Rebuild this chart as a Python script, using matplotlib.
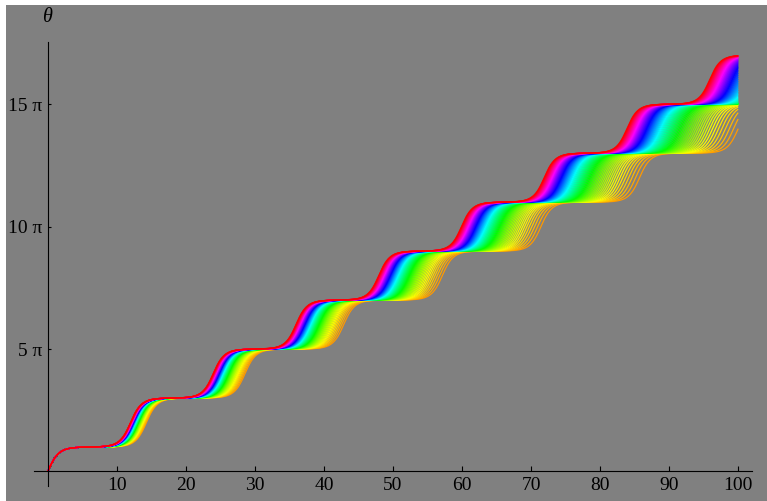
import numpy as np
import matplotlib
matplotlib.use("Agg")
import matplotlib.pyplot as plt
from matplotlib.colors import hsv_to_rgb
from matplotlib.patches import Rectangle

# Family of pendulum rotations theta'' = -sin(theta), theta(0) = 0,
# launched just above the separatrix speed: theta'(0) = 2 + speed_scale * h.
# Each curve is coloured by its own parameter h as a hue.
hue_params = np.round(np.arange(0.10, 1.0001, 0.01), 2)
base_speed = 2.0
speed_scale = 1e-4
t_max = 100.0

x_ticks = [10, 20, 30, 40, 50, 60, 70, 80, 90, 100]
y_ticks = [5, 10, 15]          # multiples of pi
y_tick_labels = ["5 \u03c0", "10 \u03c0", "15 \u03c0"]

# --- integrate all pendulums together with RK4 ---
dt = 0.005
n_steps = int(round(t_max / dt))
times = np.linspace(0.0, t_max, n_steps + 1)
theta = np.zeros_like(hue_params)
omega = base_speed + speed_scale * hue_params
history = np.empty((n_steps + 1, hue_params.size))
history[0] = theta
for i in range(n_steps):
    k1t = omega
    k1o = -np.sin(theta)
    k2t = omega + 0.5 * dt * k1o
    k2o = -np.sin(theta + 0.5 * dt * k1t)
    k3t = omega + 0.5 * dt * k2o
    k3o = -np.sin(theta + 0.5 * dt * k2t)
    k4t = omega + dt * k3o
    k4o = -np.sin(theta + dt * k3t)
    theta = theta + dt / 6.0 * (k1t + 2 * k2t + 2 * k3t + k4t)
    omega = omega + dt / 6.0 * (k1o + 2 * k2o + 2 * k3o + k4o)
    history[i + 1] = theta

# --- figure ---
W, H = 767, 501
fig = plt.figure(figsize=(W / 100, H / 100), dpi=100, facecolor="white")
fig.patches.append(Rectangle((6 / W, 0), 1 - 6 / W, 1 - 5 / H,
                             transform=fig.transFigure, facecolor="#808080",
                             edgecolor="none", zorder=-10))

left_px, right_px, top_px, bottom_px = 34, 752, 42, 485.7
ax = fig.add_axes([left_px / W, (H - bottom_px) / H,
                   (right_px - left_px) / W, (bottom_px - top_px) / H])
ax.set_facecolor("none")

step = 2
for j, h in enumerate(hue_params):
    ax.plot(times[::step], history[::step, j] / np.pi,
            color=hsv_to_rgb((h, 1.0, 1.0)), lw=0.9, solid_capstyle="butt")

ax.set_xlim(-2.0, 102.0)
ax.set_ylim(-0.58, 17.54)

for side in ("top", "right"):
    ax.spines[side].set_visible(False)
ax.spines["left"].set_position(("data", 0))
ax.spines["bottom"].set_position(("data", 0))
for side in ("left", "bottom"):
    ax.spines[side].set_linewidth(0.8)
    ax.spines[side].set_color("black")

serif = "Liberation Serif"
ax.set_xticks(x_ticks)
ax.set_xticklabels([str(v) for v in x_ticks], family=serif, fontsize=14)
ax.set_yticks(y_ticks)
ax.set_yticklabels(y_tick_labels, family=serif, fontsize=14)
ax.tick_params(axis="x", direction="in", length=3.4, width=0.8, pad=4.2, colors="black")
ax.tick_params(axis="y", direction="in", length=2.5, width=0.8, pad=3.8, colors="black")

fig.text(47 / W, 1 - 18 / H, "\u03b8", family=serif, style="italic",
         fontsize=14.5, ha="center", va="center")

fig.savefig("out.png", dpi=100, facecolor=fig.get_facecolor())
